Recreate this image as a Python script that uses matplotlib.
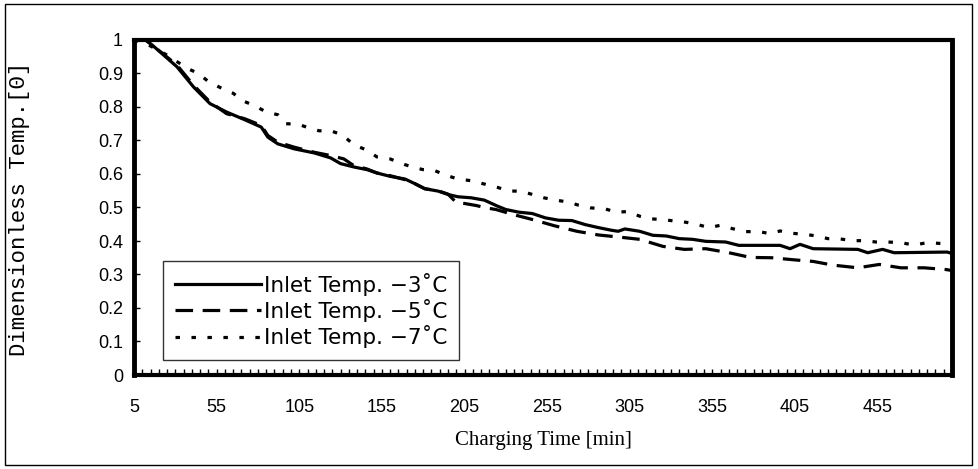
import matplotlib
matplotlib.use("Agg")
import matplotlib.pyplot as plt
from matplotlib.patches import Rectangle
from matplotlib.ticker import FuncFormatter, MultipleLocator, FixedLocator

# ---- data ----
t_m3 = [5, 12, 16, 31, 41, 51, 61, 72, 82, 86, 92, 102, 114, 124, 130, 138, 146, 152,
        160, 169, 175, 181, 189, 195, 201, 209, 217, 225, 230, 238, 246, 254, 262, 270,
        278, 286, 294, 298, 302, 311, 319, 327, 335, 343, 351, 363, 371, 396, 402, 408,
        416, 443, 449, 458, 465, 497, 500]
v_m3 = [1.0, 1.0, 0.985, 0.92, 0.86, 0.81, 0.785, 0.762, 0.74, 0.71, 0.69, 0.675, 0.663,
        0.648, 0.631, 0.621, 0.613, 0.603, 0.593, 0.585, 0.571, 0.556, 0.549, 0.539, 0.532,
        0.529, 0.522, 0.504, 0.494, 0.486, 0.482, 0.469, 0.462, 0.461, 0.449, 0.440, 0.432,
        0.429, 0.436, 0.429, 0.417, 0.415, 0.407, 0.405, 0.399, 0.397, 0.387, 0.387, 0.377,
        0.390, 0.377, 0.375, 0.365, 0.375, 0.365, 0.367, 0.363]

t_m5 = [5, 12, 16, 31, 41, 51, 61, 72, 82, 86, 92, 102, 114, 124, 132, 138, 146, 152,
        160, 169, 175, 181, 189, 195, 200, 205, 212, 218, 224, 236, 247, 259, 273, 286,
        298, 311, 325, 338, 351, 365, 378, 391, 404, 416, 428, 443, 456, 469, 483, 496, 500]
v_m5 = [1.0, 1.0, 0.985, 0.925, 0.865, 0.815, 0.78, 0.765, 0.745, 0.715, 0.695, 0.68,
        0.665, 0.655, 0.645, 0.625, 0.615, 0.603, 0.595, 0.583, 0.571, 0.556, 0.55, 0.54,
        0.515, 0.512, 0.506, 0.499, 0.494, 0.477, 0.463, 0.446, 0.429, 0.418, 0.412, 0.405,
        0.384, 0.375, 0.377, 0.365, 0.351, 0.350, 0.344, 0.339, 0.328, 0.320, 0.330, 0.320,
        0.320, 0.315, 0.312]

t_m7 = [5, 12, 25, 37, 44, 50, 58, 65, 71, 78, 85, 92, 97, 104, 110, 117, 124, 131, 138,
        146, 152, 160, 167, 174, 180, 187, 194, 201, 209, 217, 225, 232, 239, 246, 253, 260,
        267, 274, 281, 290, 297, 304, 311, 318, 325, 333, 339, 346, 353, 360, 367, 375, 383,
        390, 396, 403, 411, 418, 425, 431, 440, 447, 454, 461, 469, 477, 485, 492, 500]
v_m7 = [1.0, 0.99, 0.955, 0.916, 0.90, 0.876, 0.856, 0.841, 0.818, 0.804, 0.785, 0.777,
        0.75, 0.749, 0.739, 0.729, 0.729, 0.717, 0.6875, 0.671, 0.651, 0.645, 0.631, 0.62,
        0.613, 0.61, 0.596, 0.585, 0.58, 0.57, 0.56, 0.549, 0.549, 0.539, 0.529, 0.522,
        0.517, 0.507, 0.499, 0.496, 0.486, 0.488, 0.474, 0.466, 0.464, 0.459, 0.456, 0.449,
        0.44, 0.447, 0.437, 0.428, 0.428, 0.422, 0.43, 0.423, 0.42, 0.415, 0.407, 0.407,
        0.401, 0.401, 0.397, 0.397, 0.395, 0.388, 0.395, 0.393, 0.392]

series_labels = ["Inlet Temp. \u22123\u02daC", "Inlet Temp. \u22125\u02daC", "Inlet Temp. \u22127\u02daC"]
x_ticks = [5, 55, 105, 155, 205, 255, 305, 355, 405, 455]
y_ticks = [0, 0.1, 0.2, 0.3, 0.4, 0.5, 0.6, 0.7, 0.8, 0.9, 1.0]

# ---- figure ----
fig = plt.figure(figsize=(9.79, 4.69), dpi=100)
ax = fig.add_axes([134 / 979, 1 - 375 / 469, (952 - 134) / 979, (375 - 40) / 469])

lw = 2.3
ax.plot(t_m3, v_m3, color="black", lw=lw, ls="-", label=series_labels[0])
ax.plot(t_m5, v_m5, color="black", lw=lw, ls=(0, (5.5, 3)), label=series_labels[1])
ax.plot(t_m7, v_m7, color="black", lw=lw, ls=(0, (1.4, 3.6)), label=series_labels[2])

ax.set_xlim(5, 500)
ax.set_ylim(0, 1)

for name, s in ax.spines.items():
    s.set_linewidth(3.5 if name in ("left", "right") else 3)
    s.set_color("black")

ax.xaxis.set_major_locator(FixedLocator(x_ticks))
ax.xaxis.set_minor_locator(MultipleLocator(5))
ax.yaxis.set_major_locator(FixedLocator(y_ticks))
ax.yaxis.set_major_formatter(FuncFormatter(lambda v, p: f"{v:g}"))

ax.tick_params(axis="x", which="major", direction="in", length=4, width=1, pad=17,
               labelsize=13)
ax.tick_params(axis="x", which="minor", direction="in", length=4, width=1)
ax.tick_params(axis="y", which="major", direction="in", length=4, width=1, pad=8,
               labelsize=13)
for lab in ax.get_xticklabels() + ax.get_yticklabels():
    lab.set_family("Liberation Sans")

ax.set_xlabel("Charging Time [min]", family="Liberation Serif", fontsize=15, va="center")
ax.xaxis.set_label_coords(0.5, -(440 - 375) / 335)
ax.set_ylabel("Dimensionless Temp.[\u0398]", family="Liberation Mono", fontsize=16,
              va="center")
ax.yaxis.set_label_coords(-(134 - 20) / 818, (375 - 209) / 335)

leg = ax.legend(loc="lower left", bbox_to_anchor=((163 - 134) / 818, (375 - 360) / 335),
                borderaxespad=0, frameon=True, fancybox=False, shadow=False,
                prop={"family": "DejaVu Sans", "size": 15.5},
                handlelength=4.0, handletextpad=0.15, labelspacing=0.15,
                borderpad=0.55)
leg.get_frame().set_edgecolor("black")
leg.get_frame().set_linewidth(1)

fig.patches.append(Rectangle((5 / 979, 4 / 469), 967 / 979, 461 / 469,
                             transform=fig.transFigure, fill=False,
                             edgecolor="black", linewidth=1))

fig.savefig("out.png", dpi=100)
